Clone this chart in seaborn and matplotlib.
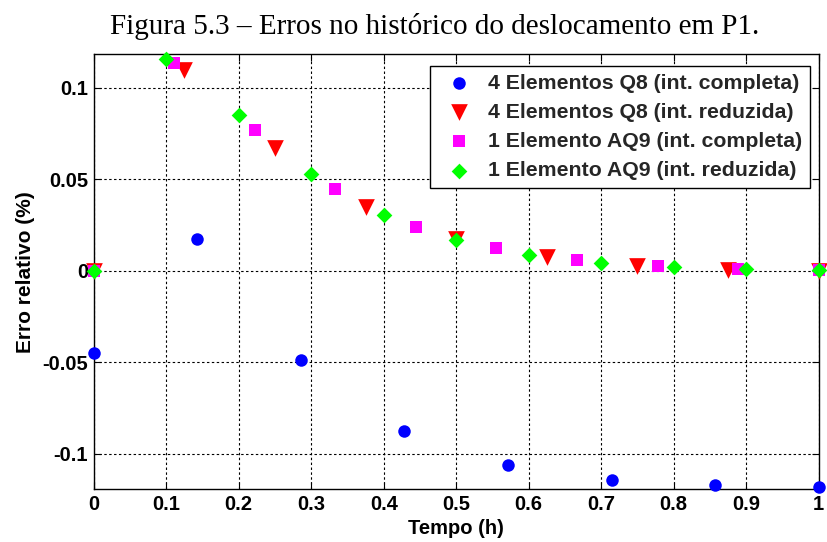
import numpy as np
import pandas as pd
import matplotlib
matplotlib.use("Agg")
import matplotlib.pyplot as plt
import seaborn as sns

# ---- data ----
x_q8c = [0, 1/7, 2/7, 3/7, 4/7, 5/7, 6/7, 1]
y_q8c = [-0.0451, 0.0171, -0.0486, -0.0875, -0.1062, -0.1143, -0.1172, -0.1185]

x_q8r = [0, 0.125, 0.25, 0.375, 0.5, 0.625, 0.75, 0.875, 1]
y_q8r = [0.0, 0.110, 0.0671, 0.0348, 0.0174, 0.0075, 0.0024, 0.0005, 0.0001]

x_aq9c = [0, 1/9, 2/9, 3/9, 4/9, 5/9, 6/9, 7/9, 8/9, 1]
y_aq9c = [0.0, 0.1133, 0.0772, 0.0447, 0.0239, 0.0124, 0.0060, 0.0027, 0.0010, 0.0004]

x_aq9r = [0, 0.1, 0.2, 0.3, 0.4, 0.5, 0.6, 0.7, 0.8, 0.9, 1]
y_aq9r = [0.0, 0.1155, 0.0849, 0.0531, 0.0305, 0.0168, 0.0084, 0.0044, 0.0022, 0.0011, 0.0003]

labels = ["4 Elementos Q8 (int. completa)",
          "4 Elementos Q8 (int. reduzida)",
          "1 Elemento AQ9 (int. completa)",
          "1 Elemento AQ9 (int. reduzida)"]

xticks = [0, 0.1, 0.2, 0.3, 0.4, 0.5, 0.6, 0.7, 0.8, 0.9, 1]
xticklabels = ["0", "0.1", "0.2", "0.3", "0.4", "0.5", "0.6", "0.7", "0.8", "0.9", "1"]
yticks = [-0.1, -0.05, 0, 0.05, 0.1]
yticklabels = ["-0.1", "-0.05", "0", "0.05", "0.1"]

title = "Figura 5.3 \u2013 Erros no hist\u00f3rico do deslocamento em P1."

# ---- style ----
sns.set_theme(style="white")
plt.rcParams['font.family'] = ['Liberation Sans', 'DejaVu Sans']

fig = plt.figure(figsize=(8.27, 5.42), dpi=100)
ax = fig.add_axes([0.1133, 0.0972, 0.8767, 0.8032])

series = [
    (x_q8c, y_q8c, labels[0], "o", "#0000ff", 9.0),
    (x_q8r, y_q8r, labels[1], "v", "#ff0000", 12.0),
    (x_aq9c, y_aq9c, labels[2], "s", "#ff00ff", 8.5),
    (x_aq9r, y_aq9r, labels[3], "D", "#00ff00", 8.0),
]
for xs, ys, lab, mk, col, ms in series:
    df = pd.DataFrame({"x": xs, "y": ys})
    sns.scatterplot(data=df, x="x", y="y", marker=mk, color=col, s=ms**2,
                    linewidth=0, label=lab, ax=ax, zorder=3, clip_on=False)

ax.set_xlim(0, 1)
ax.set_ylim(-0.1195, 0.1185)
ax.set_xticks(xticks)
ax.set_xticklabels(xticklabels)
ax.set_yticks(yticks)
ax.set_yticklabels(yticklabels)

ax.grid(True, color="black", linestyle=(0, (2.2, 2.2)), linewidth=0.8)
for sp in ax.spines.values():
    sp.set_color("black")
    sp.set_linewidth(1.0)
    sp.set_visible(True)
ax.tick_params(direction="in", length=5, width=0.8, color="black",
               top=True, right=True, bottom=True, left=True,
               labelsize=14.5, pad=4)
for t in ax.get_xticklabels() + ax.get_yticklabels():
    t.set_fontweight("bold")
    t.set_color("black")

ax.set_xlabel("Tempo (h)", fontsize=14.5, fontweight="bold", color="black", labelpad=4)
ax.set_ylabel("Erro relativo (%)", fontsize=15, fontweight="bold", color="black", labelpad=5.5)

leg = ax.legend(loc="upper right", bbox_to_anchor=(0.988, 0.972), borderaxespad=0,
                frameon=True, fancybox=False, edgecolor="black", framealpha=1,
                prop={"weight": "bold", "size": 15.3}, handletextpad=0.4,
                labelspacing=0.48, borderpad=0.35, handlelength=2.0)
leg.get_frame().set_linewidth(1.0)

fig.text(0.526, 1 - 27/542, title, ha="center", va="center",
         fontsize=21, family="Liberation Serif", color="black")

fig.savefig("out.png", dpi=100)
